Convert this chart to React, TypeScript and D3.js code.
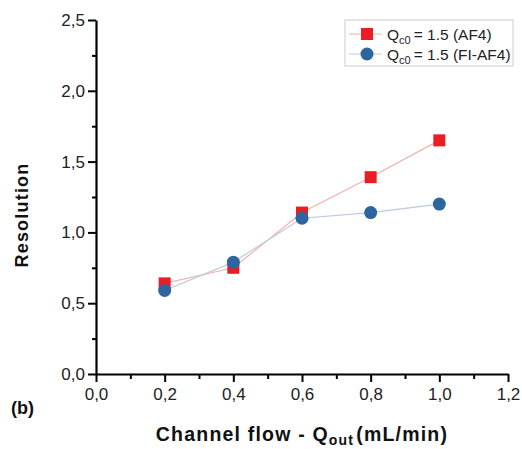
import React, { useEffect, useRef } from 'react';
import * as d3 from 'd3';

const flows = [0.2, 0.4, 0.6, 0.8, 1.0];
const resolutionAF4 = [0.64, 0.75, 1.14, 1.39, 1.65];
const resolutionFIAF4 = [0.59, 0.79, 1.10, 1.14, 1.20];
const xTicks = [0, 0.2, 0.4, 0.6, 0.8, 1.0, 1.2];
const yTicks = [0, 0.5, 1.0, 1.5, 2.0, 2.5];

const width = 522;
const height = 449;
const font = '"Liberation Sans", Arial, sans-serif';

const App = () => {
    const ref = useRef<SVGSVGElement>(null);

    useEffect(() => {
        const svg = d3.select(ref.current);
        svg.selectAll('*').remove();

        const x = d3.scaleLinear().domain([0, 1.2]).range([96, 508]);
        const y = d3.scaleLinear().domain([0, 2.5]).range([374, 20]);
        const fmt = (d: number) => d3.format('.1f')(d).replace('.', ',');

        // minor ticks
        const xMinor = d3.range(0.1, 1.2, 0.2);
        const yMinor = d3.range(0.25, 2.5, 0.5);

        const xAxis = svg.append('g').attr('transform', `translate(0,${y(0)})`);
        xAxis.call(d3.axisBottom(x).tickValues(xMinor).tickSize(5).tickFormat(() => ''));
        xAxis.call(g => g.selectAll('.domain').remove());
        xAxis.append('g').call(d3.axisBottom(x).tickValues(xTicks).tickSize(8).tickPadding(6).tickSizeOuter(0).tickFormat(d => fmt(+d)));

        const yAxis = svg.append('g').attr('transform', `translate(${x(0)},0)`);
        yAxis.call(d3.axisLeft(y).tickValues(yMinor).tickSize(4).tickFormat(() => ''));
        yAxis.call(g => g.selectAll('.domain').remove());
        yAxis.append('g').call(d3.axisLeft(y).tickValues(yTicks).tickSize(8).tickPadding(3).tickSizeOuter(0).tickFormat(d => fmt(+d)));

        svg.selectAll('.domain').attr('stroke', '#000').attr('stroke-width', 2.2);
        svg.selectAll('.tick line').attr('stroke', '#000').attr('stroke-width', 2);
        svg.selectAll('.tick text').attr('font-family', font).attr('font-size', 17).attr('fill', '#222');

        const line = d3.line<number>().x((d, i) => x(flows[i])).y(d => y(d));

        svg.append('path').datum(resolutionAF4).attr('d', line)
            .attr('fill', 'none').attr('stroke', '#f5b0ac').attr('stroke-width', 1.2);
        svg.append('path').datum(resolutionFIAF4).attr('d', line)
            .attr('fill', 'none').attr('stroke', '#bccade').attr('stroke-width', 1.2);

        const s = 12;
        svg.selectAll('.sq').data(resolutionAF4).enter().append('rect')
            .attr('x', (d, i) => x(flows[i]) - s / 2).attr('y', d => y(d) - s / 2)
            .attr('width', s).attr('height', s).attr('fill', '#ec1c24');
        svg.selectAll('.ci').data(resolutionFIAF4).enter().append('circle')
            .attr('cx', (d, i) => x(flows[i])).attr('cy', d => y(d))
            .attr('r', 6.5).attr('fill', '#2f659f');

        // legend
        const lg = svg.append('g');
        lg.append('rect').attr('x', 345).attr('y', 20).attr('width', 168).attr('height', 46)
            .attr('fill', '#fff').attr('stroke', '#ccc').attr('stroke-width', 1);
        const rows = [
            { label: '= 1.5 (AF4)', color: '#f5b0ac', y: 34 },
            { label: '= 1.5 (FI-AF4)', color: '#bccade', y: 54 },
        ];
        rows.forEach((r, i) => {
            lg.append('line').attr('x1', 349).attr('x2', 382).attr('y1', r.y).attr('y2', r.y)
                .attr('stroke', r.color).attr('stroke-width', 1);
            if (i === 0) {
                lg.append('rect').attr('x', 361).attr('y', r.y - 6).attr('width', 12).attr('height', 12).attr('fill', '#ec1c24');
            } else {
                lg.append('circle').attr('cx', 367).attr('cy', r.y).attr('r', 6.5).attr('fill', '#2f659f');
            }
            const t = lg.append('text').attr('x', 387).attr('y', r.y + 5.5)
                .attr('font-family', font).attr('font-size', 15.5).attr('fill', '#222');
            t.append('tspan').text('Q');
            t.append('tspan').attr('font-size', 11).attr('dy', 4).text('c0');
            t.append('tspan').attr('dy', -4).attr('dx', 3).text(r.label);
        });

        // axis titles
        svg.append('text').attr('transform', 'translate(28,215) rotate(-90)')
            .attr('text-anchor', 'middle').attr('font-family', font).attr('font-weight', 'bold')
            .attr('font-size', 18).attr('letter-spacing', 1.2).attr('fill', '#111').text('Resolution');

        const xt = svg.append('text').attr('x', 302).attr('y', 441).attr('text-anchor', 'middle')
            .attr('font-family', font).attr('font-weight', 'bold').attr('font-size', 19.5)
            .attr('letter-spacing', 1.2).attr('fill', '#111');
        xt.append('tspan').text('Channel flow - Q');
        xt.append('tspan').attr('font-size', 14).attr('dy', 4).text('out');
        xt.append('tspan').attr('dy', -4).attr('dx', 2).text('(mL/min)');

        svg.append('text').attr('x', 11).attr('y', 414).attr('font-family', font)
            .attr('font-weight', 'bold').attr('font-size', 18).attr('fill', '#111').text('(b)');
    }, []);

    return (
        <svg ref={ref} width={width} height={height}
            style={{ position: 'absolute', left: 0, top: 0, background: '#fff' }} />
    );
};

export default App;
